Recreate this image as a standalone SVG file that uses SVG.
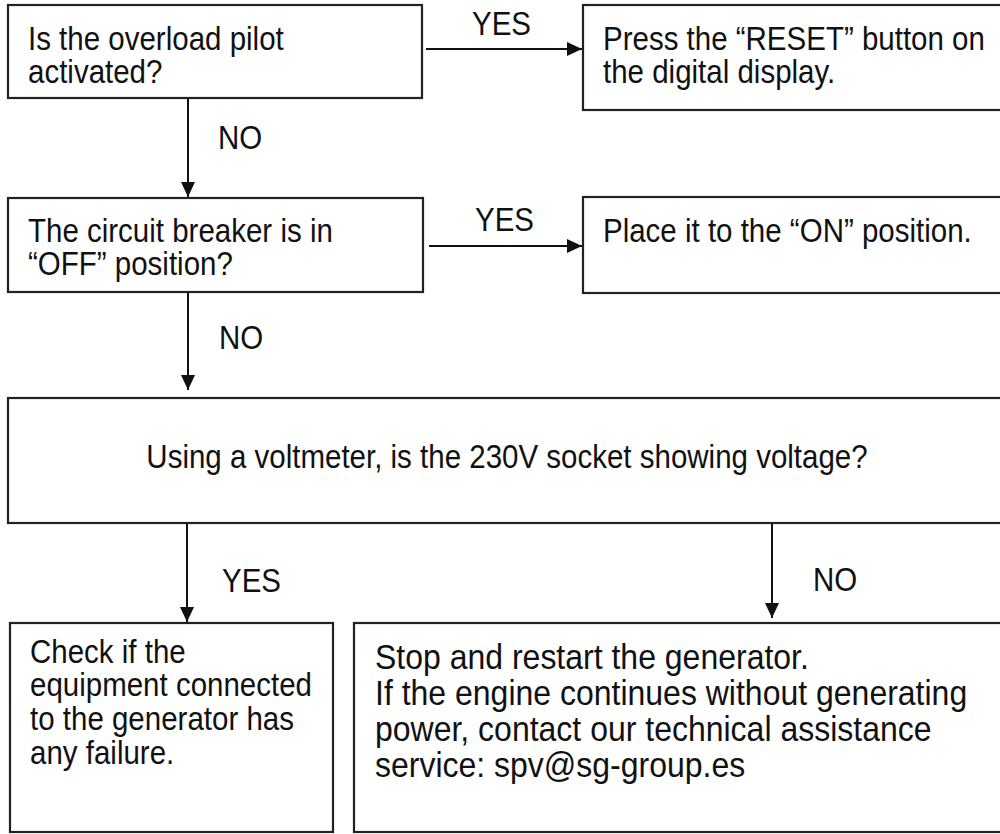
<svg xmlns="http://www.w3.org/2000/svg" width="1000" height="834" viewBox="0 0 1000 834">
<defs>
<marker id="ah" markerUnits="userSpaceOnUse" markerWidth="16" markerHeight="16" viewBox="0 0 16 16" refX="15" refY="8" orient="auto">
<path d="M0,1 L15,8 L0,15 Z" fill="#111"/>
</marker>
<style>
.box{fill:#fff;stroke:#222;stroke-width:2.2}
.t{font-family:"Liberation Sans",Arial,sans-serif;font-size:29.5px;fill:#111}
.tb{font-family:"Liberation Sans",Arial,sans-serif;font-size:32px;fill:#111}
.c{stroke:#111;stroke-width:2;fill:none;marker-end:url(#ah)}
</style>
</defs>
<rect width="1000" height="834" fill="#fff"/>
<g id="connectors">
<line class="c" x1="426" y1="49" x2="582" y2="49"/>
<line class="c" x1="188" y1="98" x2="188" y2="197"/>
<line class="c" x1="429" y1="246" x2="582" y2="246"/>
<line class="c" x1="188" y1="292" x2="188" y2="390"/>
<line class="c" x1="187" y1="523" x2="187" y2="622"/>
<line class="c" x1="772" y1="524" x2="772" y2="618"/>
<text class="t" x="472" y="35" transform="matrix(1,0,0,1.1,0,-3.5)">YES</text>
<text class="t" x="218" y="149" transform="matrix(1,0,0,1.1,0,-14.9)">NO</text>
<text class="t" x="475" y="231" transform="matrix(1,0,0,1.1,0,-23.1)">YES</text>
<text class="t" x="219" y="349" transform="matrix(1,0,0,1.1,0,-34.9)">NO</text>
<text class="t" x="222" y="592" transform="matrix(1,0,0,1.1,0,-59.2)">YES</text>
<text class="t" x="813" y="591" transform="matrix(1,0,0,1.1,0,-59.1)">NO</text>
</g>
<g id="n1">
<rect class="box" x="8" y="5" width="414" height="93"/>
<text class="t" x="28" y="50" transform="matrix(1,0,0,1.1,0,-5)">Is the overload pilot</text>
<text class="t" x="28" y="83" transform="matrix(1,0,0,1.1,0,-8.3)">activated?</text>
</g>
<g id="n2">
<rect class="box" x="583" y="5" width="420" height="105"/>
<text class="t" x="603" y="50" transform="matrix(1,0,0,1.1,0,-5)">Press the “RESET” button on</text>
<text class="t" x="603" y="83" transform="matrix(1,0,0,1.1,0,-8.3)">the digital display.</text>
</g>
<g id="n3">
<rect class="box" x="8" y="198" width="415" height="94"/>
<text class="t" x="28" y="242" transform="matrix(1,0,0,1.1,0,-24.2)">The circuit breaker is in</text>
<text class="t" x="28" y="275" transform="matrix(1,0,0,1.1,0,-27.5)">“OFF” position?</text>
</g>
<g id="n4">
<rect class="box" x="583" y="197" width="420" height="96"/>
<text class="t" x="603" y="242" transform="matrix(1,0,0,1.1,0,-24.2)">Place it to the “ON” position.</text>
</g>
<g id="n5">
<rect class="box" x="8" y="398" width="995" height="125"/>
<text class="t" x="507" y="468" text-anchor="middle" transform="matrix(1,0,0,1.1,0,-46.8)">Using a voltmeter, is the 230V socket showing voltage?</text>
</g>
<g id="n6">
<rect class="box" x="10" y="623" width="323" height="209"/>
<text class="t" x="30" y="663" transform="matrix(1,0,0,1.1,0,-66.3)">Check if the</text>
<text class="t" x="30" y="696" transform="matrix(1,0,0,1.1,0,-69.6)">equipment connected</text>
<text class="t" x="30" y="730" transform="matrix(1,0,0,1.1,0,-73)">to the generator has</text>
<text class="t" x="30" y="764" transform="matrix(1,0,0,1.1,0,-76.4)">any failure.</text>
</g>
<g id="n7">
<rect class="box" x="354" y="623" width="649" height="209"/>
<text class="tb" x="375" y="669" transform="matrix(1,0,0,1.1,0,-66.9)">Stop and restart the generator.</text>
<text class="tb" x="375" y="705" transform="matrix(1,0,0,1.1,0,-70.5)">If the engine continues without generating</text>
<text class="tb" x="375" y="741" transform="matrix(1,0,0,1.1,0,-74.1)">power, contact our technical assistance</text>
<text class="tb" x="375" y="777" transform="matrix(1,0,0,1.1,0,-77.7)">service: spv@sg-group.es</text>
</g>
</svg>
